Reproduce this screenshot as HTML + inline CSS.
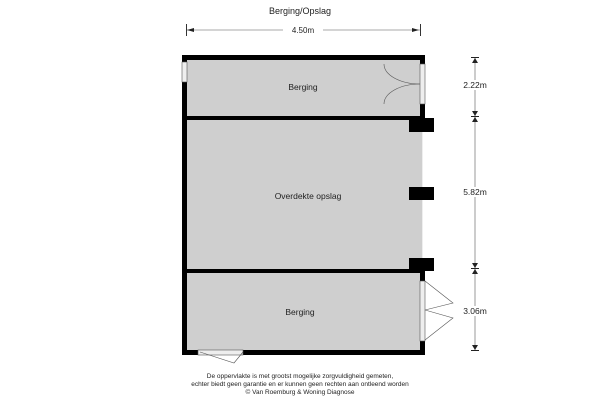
<!DOCTYPE html>
<html><head><style>body{margin:0;background:#fff}svg{display:block}text{font-family:"Liberation Sans",sans-serif;fill:#222}</style></head>
<body>
<svg width="600" height="400" viewBox="0 0 600 400">
<text x="300" y="14" font-size="9" text-anchor="middle">Berging/Opslag</text>
<line x1="186" y1="30" x2="420" y2="30" stroke="#555" stroke-width="0.6"/>
<rect x="186" y="24" width="1" height="12" fill="#333"/><rect x="420" y="24" width="1" height="12" fill="#333"/>
<polygon points="187,30 194,28 194,32" fill="#222"/><polygon points="419,30 412,28 412,32" fill="#222"/>
<rect x="283" y="25" width="40" height="10" fill="#fff"/>
<text x="303" y="33" font-size="8" text-anchor="middle">4.50m</text>
<rect x="186" y="58" width="236" height="296" fill="#cfcfcf"/>
<rect x="182" y="55" width="243" height="5" fill="#000"/>
<rect x="182" y="55" width="5" height="300" fill="#000"/>
<rect x="182" y="350" width="243" height="5" fill="#000"/>
<rect x="186" y="116" width="236" height="4" fill="#000"/>
<rect x="186" y="269" width="236" height="4" fill="#000"/>
<rect x="420" y="55" width="5" height="63" fill="#000"/>
<rect x="420" y="271" width="5" height="84" fill="#000"/>
<rect x="422" y="120" width="1" height="150" fill="#eee"/>
<rect x="409" y="118" width="25" height="14" fill="#000"/>
<rect x="409" y="187" width="25" height="13" fill="#000"/>
<rect x="409" y="258" width="25" height="13" fill="#000"/>
<rect x="182" y="62" width="5" height="20" fill="#eee" stroke="#555" stroke-width="0.6"/>
<rect x="420" y="64" width="5" height="40" fill="#eee" stroke="#555" stroke-width="0.6"/>
<rect x="420" y="281" width="5" height="60" fill="#eee" stroke="#555" stroke-width="0.6"/>
<rect x="198" y="350" width="45" height="5" fill="#eee" stroke="#555" stroke-width="0.6"/>
<path d="M384,64 A36,20 0 0 0 420,84" fill="none" stroke="#555" stroke-width="0.6"/>
<path d="M384,104 A36,20 0 0 1 420,84" fill="none" stroke="#555" stroke-width="0.6"/>
<path d="M425,281 L453,303 L425,310 M425,310 L453,318 L425,340" fill="none" stroke="#555" stroke-width="0.6"/>
<path d="M200,352 L234,363 L243,352" fill="none" stroke="#555" stroke-width="0.6"/>
<text x="303" y="90" font-size="8.5" text-anchor="middle">Berging</text>
<text x="308" y="199" font-size="8.5" text-anchor="middle">Overdekte opslag</text>
<text x="300" y="315" font-size="8.5" text-anchor="middle">Berging</text>
<line x1="475" y1="58" x2="475" y2="350" stroke="#555" stroke-width="0.6"/>
<g fill="#222">
<rect x="471" y="57" width="8" height="1"/><polygon points="475,58 472,63 478,63"/>
<polygon points="475,116 472,111 478,111"/><rect x="471" y="116" width="8" height="1"/><polygon points="475,117 472,122 478,122"/>
<polygon points="475,268 472,263 478,263"/><rect x="471" y="268" width="8" height="1"/><polygon points="475,269 472,274 478,274"/>
<polygon points="475,350 472,345 478,345"/><rect x="471" y="350" width="8" height="1"/>
</g>
<rect x="458" y="80" width="36" height="10" fill="#fff"/><text x="475" y="88" font-size="8.5" text-anchor="middle">2.22m</text>
<rect x="458" y="187" width="36" height="10" fill="#fff"/><text x="475" y="195" font-size="8.5" text-anchor="middle">5.82m</text>
<rect x="458" y="306" width="36" height="10" fill="#fff"/><text x="475" y="314" font-size="8.5" text-anchor="middle">3.06m</text>
<text x="300" y="378" font-size="6.5" text-anchor="middle">De oppervlakte is met grootst mogelijke zorgvuldigheid gemeten,</text>
<text x="300" y="386" font-size="6.5" text-anchor="middle">echter biedt geen garantie en er kunnen geen rechten aan ontleend worden</text>
<text x="300" y="394" font-size="6.5" text-anchor="middle">© Van Roemburg &amp; Woning Diagnose</text>
</svg>
</body></html>
